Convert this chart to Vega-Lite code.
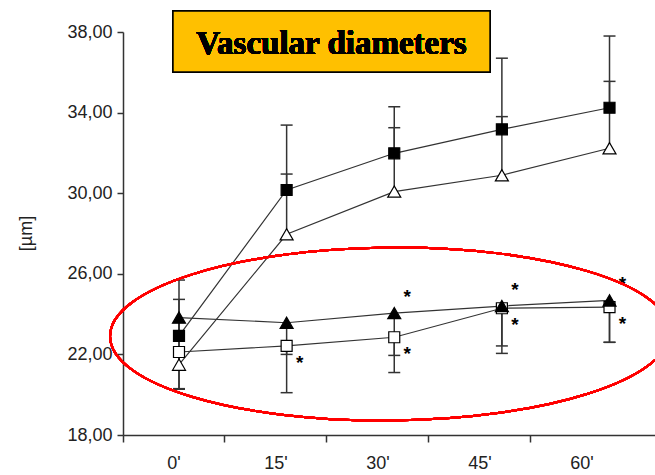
{
  "$schema": "https://vega.github.io/schema/vega-lite/v6.json",
  "width": 532,
  "height": 403,
  "autosize": {"type": "none"},
  "padding": {"left": 123, "top": 32, "right": 0, "bottom": 40},
  "background": "white",
  "config": {
    "view": {"stroke": null},
    "font": "Liberation Sans",
    "axis": {
      "grid": false,
      "domainColor": "#333",
      "domainWidth": 1.5,
      "tickColor": "#333",
      "tickWidth": 1.5,
      "labelColor": "#222",
      "labelFont": "Liberation Sans",
      "labelFontSize": 18,
      "titleFont": "Liberation Sans"
    }
  },
  "data": {
    "values": [
      {"group": "A", "time": "0'", "t": 0, "mean": 22.92, "err": 25.69, "sig": ""},
      {"group": "A", "time": "15'", "t": 15, "mean": 30.16, "err": 33.38, "sig": ""},
      {"group": "A", "time": "30'", "t": 30, "mean": 31.98, "err": 34.29, "sig": ""},
      {"group": "A", "time": "45'", "t": 45, "mean": 33.17, "err": 36.7, "sig": ""},
      {"group": "A", "time": "60'", "t": 60, "mean": 34.24, "err": 37.8, "sig": ""},
      {"group": "B", "time": "0'", "t": 0, "mean": 21.49, "err": 24.73, "sig": ""},
      {"group": "B", "time": "15'", "t": 15, "mean": 27.96, "err": 30.95, "sig": ""},
      {"group": "B", "time": "30'", "t": 30, "mean": 30.08, "err": 33.25, "sig": ""},
      {"group": "B", "time": "45'", "t": 45, "mean": 30.89, "err": 33.8, "sig": ""},
      {"group": "B", "time": "60'", "t": 60, "mean": 32.23, "err": 35.55, "sig": ""},
      {"group": "C", "time": "0'", "t": 0, "mean": 23.83, "err": 20.27, "sig": ""},
      {"group": "C", "time": "15'", "t": 15, "mean": 23.57, "err": 20.1, "sig": ""},
      {"group": "C", "time": "30'", "t": 30, "mean": 24.05, "err": 21.95, "sig": "*"},
      {"group": "C", "time": "45'", "t": 45, "mean": 24.4, "err": 22.05, "sig": "*"},
      {"group": "C", "time": "60'", "t": 60, "mean": 24.68, "err": 22.6, "sig": "*"},
      {"group": "D", "time": "0'", "t": 0, "mean": 22.12, "err": 20.3, "sig": ""},
      {"group": "D", "time": "15'", "t": 15, "mean": 22.42, "err": 22.0, "sig": "*"},
      {"group": "D", "time": "30'", "t": 30, "mean": 22.85, "err": 21.1, "sig": "*"},
      {"group": "D", "time": "45'", "t": 45, "mean": 24.29, "err": 22.42, "sig": "*"},
      {"group": "D", "time": "60'", "t": 60, "mean": 24.35, "err": 22.6, "sig": "*"}
    ]
  },
  "layer": [
    {
      "description": "Invisible layer that carries the category axis for the time points",
      "mark": {"type": "point", "opacity": 0},
      "encoding": {
        "x": {
          "field": "time",
          "type": "ordinal",
          "sort": ["0'", "15'", "30'", "45'", "60'"],
          "scale": {"type": "band", "paddingInner": 0, "paddingOuter": 0.108, "align": 0},
          "axis": {
            "title": null,
            "bandPosition": 0,
            "tickExtra": false,
            "tickSize": 7,
            "labelPadding": 12,
            "labelAngle": 0
          }
        },
        "y": {
          "field": "mean",
          "type": "quantitative",
          "scale": {"domain": [18, 38], "nice": false, "zero": false},
          "axis": {
            "values": [18, 22, 26, 30, 34, 38],
            "labelExpr": "replace(format(datum.value, '.2f'), '.', ',')",
            "tickSize": 6,
            "labelPadding": 5,
            "title": "[µm]",
            "titleFontSize": 18,
            "titleFontWeight": "normal",
            "titleColor": "#222",
            "titleX": -97,
            "titleY": 201,
            "titleAngle": -90,
            "titleBaseline": "middle",
            "titleAlign": "center"
          }
        }
      }
    },
    {
      "encoding": {
        "x": {
          "field": "t",
          "type": "quantitative",
          "scale": {"domain": [-7.805, 66.34], "nice": false, "zero": false},
          "axis": null
        }
      },
      "layer": [
        {
          "mark": {"type": "line", "color": "#333", "strokeWidth": 1.2},
          "encoding": {
            "y": {"field": "mean", "type": "quantitative"},
            "detail": {"field": "group"}
          }
        },
        {
          "mark": {"type": "rule", "color": "#333", "strokeWidth": 1.5},
          "encoding": {
            "y": {"field": "mean", "type": "quantitative"},
            "y2": {"field": "err"}
          }
        },
        {
          "mark": {"type": "tick", "orient": "horizontal", "color": "#333", "thickness": 1.5, "size": 12, "opacity": 1},
          "encoding": {
            "y": {"field": "err", "type": "quantitative"}
          }
        },
        {
          "transform": [{"filter": "datum.group === 'A' || datum.group === 'D'"}],
          "mark": {"type": "point", "shape": "square", "filled": true, "stroke": "#000", "strokeWidth": 1.2, "size": 121, "opacity": 1},
          "encoding": {
            "y": {"field": "mean", "type": "quantitative"},
            "fill": {
              "field": "group",
              "type": "nominal",
              "scale": {"domain": ["A", "B", "C", "D"], "range": ["#000", "#fff", "#000", "#fff"]},
              "legend": null
            }
          }
        },
        {
          "transform": [{"filter": "datum.group === 'B' || datum.group === 'C'"}],
          "mark": {"type": "point", "shape": "triangle-up", "filled": true, "stroke": "#000", "strokeWidth": 1.2, "size": 169, "opacity": 1},
          "encoding": {
            "y": {"field": "mean", "type": "quantitative"},
            "fill": {
              "field": "group",
              "type": "nominal",
              "scale": {"domain": ["A", "B", "C", "D"], "range": ["#000", "#fff", "#000", "#fff"]},
              "legend": null
            }
          }
        },
        {
          "transform": [{"filter": "datum.group === 'C' && datum.sig === '*'"}],
          "mark": {"type": "text", "fontSize": 19, "fontWeight": "bold", "color": "#000", "dx": 13, "dy": -16, "align": "center", "baseline": "middle"},
          "encoding": {
            "y": {"field": "mean", "type": "quantitative"},
            "text": {"field": "sig"}
          }
        },
        {
          "transform": [{"filter": "datum.group === 'D' && datum.sig === '*'"}],
          "mark": {"type": "text", "fontSize": 19, "fontWeight": "bold", "color": "#000", "dx": 13, "dy": 17, "align": "center", "baseline": "middle"},
          "encoding": {
            "y": {"field": "mean", "type": "quantitative"},
            "text": {"field": "sig"}
          }
        },
        {
          "description": "Title box",
          "mark": {"type": "rect", "fill": "#FFC000", "stroke": "#000", "strokeWidth": 1.5},
          "encoding": {
            "x": {"datum": -0.84},
            "x2": {"datum": 43.35},
            "y": {"datum": 39.04},
            "y2": {"datum": 36.01}
          }
        },
        {
          "mark": {
            "type": "text",
            "text": "Vascular diameters",
            "font": "Liberation Serif",
            "fontWeight": "bold",
            "fontSize": 33,
            "color": "#000",
            "align": "center",
            "baseline": "alphabetic"
          },
          "encoding": {
            "x": {"datum": 21.25},
            "y": {"datum": 36.89}
          }
        },
        {
          "description": "Red ellipse around the two lower series",
          "mark": {
            "type": "point",
            "shape": "M -1 0 C -1 -0.1707 -0.5523 -0.309 0 -0.309 C 0.5523 -0.309 1 -0.1707 1 0 C 1 0.1707 0.5523 0.309 0 0.309 C -0.5523 0.309 -1 0.1707 -1 0 Z",
            "size": 313600,
            "filled": false,
            "stroke": "#FF0000",
            "strokeWidth": 2,
            "opacity": 1,
            "angle": -0.5
          },
          "encoding": {
            "x": {"datum": 29.41},
            "y": {"datum": 23.01}
          }
        }
      ]
    }
  ],
  "resolve": {"scale": {"x": "independent"}, "axis": {"x": "independent"}}
}
